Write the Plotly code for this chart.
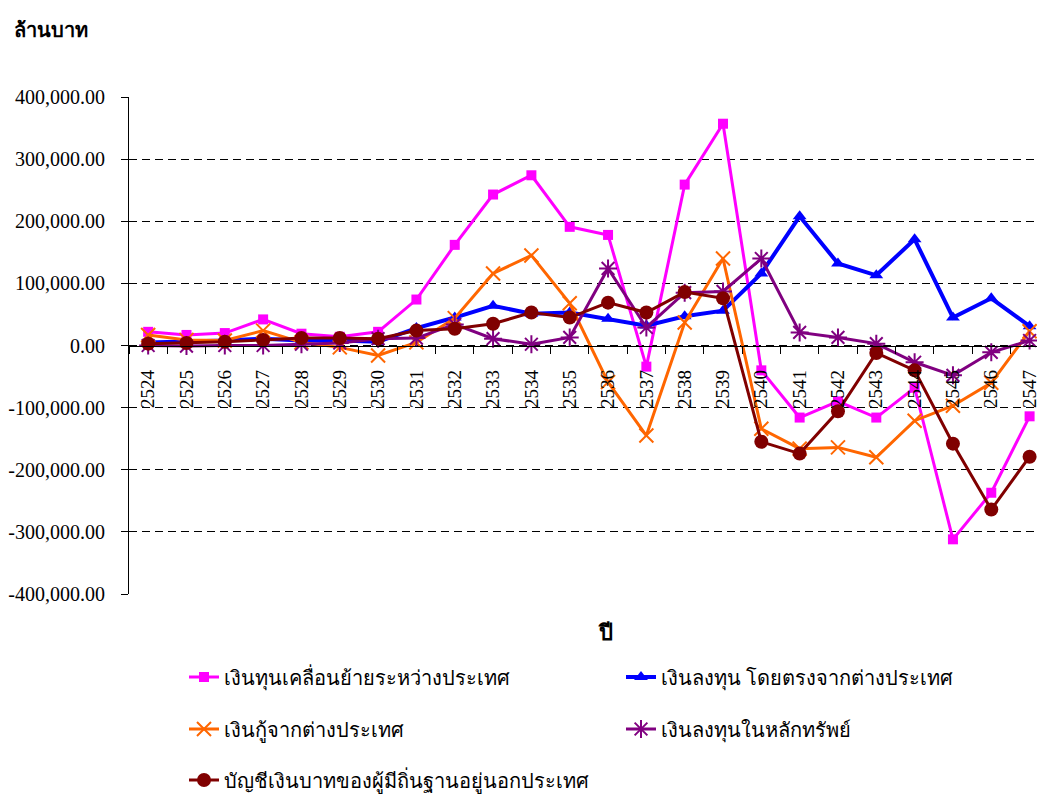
import plotly.graph_objects as go

years = [str(y) for y in range(2524, 2548)]

capital_flows = [22000, 17000, 20000, 42000, 19000, 14000, 22000, 74000, 162000, 243000, 274000, 191000,
                 178000, -34000, 259000, 357000, -40000, -116000, -90000, -116000, -68000, -312000, -237000, -114000]
fdi = [5000, 6000, 8000, 11000, 8000, 8000, 6000, 28000, 45000, 64000, 51000, 53000,
       43000, 32000, 47000, 56000, 116000, 208000, 132000, 113000, 171000, 45000, 76000, 31000]
loans = [17000, 9000, 8000, 24000, 5000, -3000, -16000, 5000, 44000, 116000, 145000, 68000,
         -59000, -145000, 37000, 140000, -134000, -166000, -164000, -180000, -121000, -97000, -60000, 23000]
portfolio = [0, -1000, 0, 0, 2000, 4000, 11000, 12000, 34000, 11000, 2000, 13000,
             124000, 29000, 85000, 87000, 140000, 21000, 13000, 3000, -27000, -48000, -11000, 8000]
nonresident_baht = [3000, 4000, 6000, 9000, 12000, 12000, 11000, 24000, 27000, 35000, 53000, 45000,
                    69000, 53000, 86000, 76000, -155000, -174000, -106000, -12000, -40000, -158000, -264000, -179000]

series_names = [
    "เงินทุนเคลื่อนย้ายระหว่างประเทศ",
    "เงินลงทุน โดยตรงจากต่างประเทศ",
    "เงินกู้จากต่างประเทศ",
    "เงินลงทุนในหลักทรัพย์",
    "บัญชีเงินบาทของผู้มีถิ่นฐานอยู่นอกประเทศ",
]

y_tick_vals = [-400000, -300000, -200000, -100000, 0, 100000, 200000, 300000, 400000]
y_tick_text = ["-400,000.00", "-300,000.00", "-200,000.00", "-100,000.00", "0.00",
               "100,000.00", "200,000.00", "300,000.00", "400,000.00"]

# page body has an 8px margin: figure origin sits at (8, 8) of the window
OFF = 8
W, H = 1045 - OFF, 795 - OFF
L, R, T = 129 - OFF, 0, 97 - OFF
B = H - (594 - OFF)
pw, ph = W - L - R, H - T - B


def px_x(p):
    return (p - OFF - L) / pw


def px_y(p):
    return (594 - p) / ph


serif = "Liberation Serif"

styles = [
    dict(color="#FF00FF", width=3, symbol="square", size=10, mlw=0, legend="legend"),
    dict(color="#0000FF", width=4, symbol="triangle-up", size=12, mlw=0, legend="legend"),
    dict(color="#FF6600", width=3, symbol="x-thin", size=14, mlw=2, legend="legend2"),
    dict(color="#800080", width=3, symbol="asterisk", size=15, mlw=2, legend="legend2"),
    dict(color="#800000", width=3, symbol="circle", size=14, mlw=0, legend="legend3"),
]
data = [capital_flows, fdi, loans, portfolio, nonresident_baht]

fig = go.Figure()
for name, vals, st in zip(series_names, data, styles):
    fig.add_trace(go.Scatter(
        x=years, y=vals, name=name, mode="lines+markers",
        line=dict(color=st["color"], width=st["width"]),
        marker=dict(symbol=st["symbol"], size=st["size"], color=st["color"],
                    line=dict(color=st["color"], width=st["mlw"])),
        legend=st["legend"],
    ))

leg_common = dict(orientation="h", xanchor="left", yanchor="middle",
                  font=dict(family=serif, size=20, color="black"),
                  entrywidth=392, entrywidthmode="pixels",
                  bgcolor="rgba(0,0,0,0)", borderwidth=0)

leg_x = px_x(184)

fig.update_layout(
    width=W, height=H, autosize=False,
    margin=dict(l=L, r=R, t=T, b=B, autoexpand=False),
    plot_bgcolor="white", paper_bgcolor="white",
    font=dict(family=serif, size=20, color="black"),
    showlegend=True,
    legend=dict(x=leg_x, y=px_y(677), **leg_common),
    legend2=dict(x=leg_x, y=px_y(729), **leg_common),
    legend3=dict(x=leg_x, y=px_y(780), **leg_common),
    xaxis=dict(
        type="category", range=[-0.5, (1045 - 148) / 38.33],
        anchor="free", position=0.5, side="bottom",
        showline=True, linecolor="black", linewidth=1,
        ticks="outside", tickson="boundaries", ticklen=7, tickcolor="black",
        ticklabelstandoff=16,
        tickangle=-90, tickfont=dict(family=serif, size=19, color="black"),
        showgrid=False, zeroline=False,
    ),
    yaxis=dict(
        range=[-400000, 400000], domain=[0, 1],
        tickvals=y_tick_vals, ticktext=y_tick_text,
        showline=True, linecolor="black", linewidth=1,
        ticks="outside", ticklen=7, tickcolor="black", ticklabelstandoff=12,
        tickfont=dict(family=serif, size=20, color="black"),
        showgrid=True, gridcolor="black", gridwidth=1, griddash="8px,5px",
        zeroline=False,
    ),
    annotations=[
        dict(text="<b>ล้านบาท</b>", xref="paper", yref="paper", x=px_x(12), y=px_y(30),
             xanchor="left", yanchor="middle", showarrow=False,
             font=dict(family=serif, size=20, color="black")),
        dict(text="<b>ปี</b>", xref="paper", yref="paper", x=px_x(605), y=px_y(632),
             xanchor="center", yanchor="middle", showarrow=False,
             font=dict(family=serif, size=22, color="black")),
    ],
)

fig.write_html("out.html")
